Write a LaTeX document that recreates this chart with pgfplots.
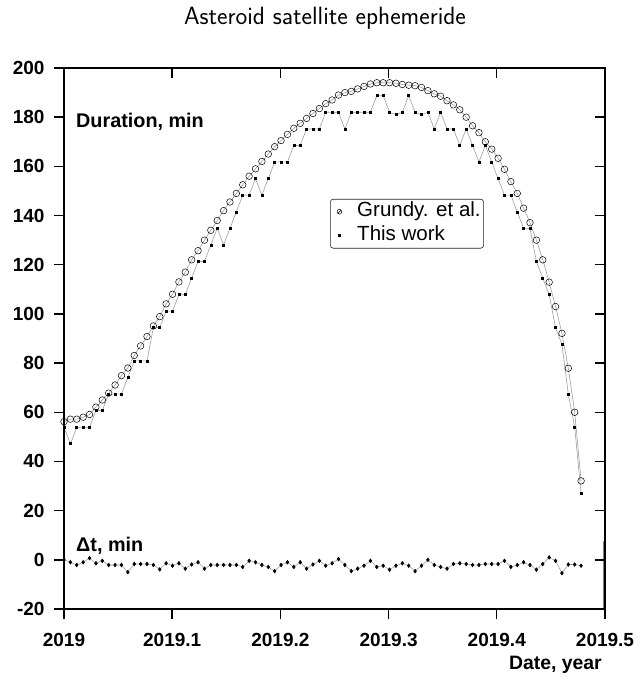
\documentclass[border=0pt]{standalone}
\usepackage{fontspec}
\setmainfont{Liberation Sans}
\usepackage{pgfplots}
\usepackage{pgfplotstable}
\pgfplotsset{compat=1.18}

\pgfdeclareplotmark{oslash}{%
  \pgfpathcircle{\pgfpointorigin}{\pgfplotmarksize}%
  \pgfpathmoveto{\pgfpoint{-0.707\pgfplotmarksize}{-0.707\pgfplotmarksize}}%
  \pgfpathlineto{\pgfpoint{0.707\pgfplotmarksize}{0.707\pgfplotmarksize}}%
  \pgfusepathqstroke}

\pgfplotstableread{
x      g     w     d
0.0000 56.2  53.9  0
0.0059 57.2  47.2  -1
0.0118 57.2  53.9  -2.1
0.0177 58.0  53.9  -1
0.0236 59.1  53.9  0.7
0.0295 62.1  60.7  -1.4
0.0354 65.0  60.7  -0.4
0.0413 67.8  67.4  -2.1
0.0472 71.1  67.4  -2.1
0.0531 74.9  67.4  -2.1
0.0590 78.0  74.1  -5
0.0649 83.1  80.9  -1.7
0.0708 87.0  80.9  -1.7
0.0767 90.8  80.9  -1.7
0.0826 95.1  94.4  -2.1
0.0885 98.9  94.4  -3.9
0.0944 104.1 101.1 -1.4
0.1003 108.0 101.1 -2.4
0.1062 113.0 107.8 -1.4
0.1121 117.0 107.8 -3.6
0.1180 122.0 114.6 -1.9
0.1239 125.7 121.3 -1
0.1298 130.0 121.3 -3.6
0.1357 134.0 128.1 -2.1
0.1416 138.0 134.8 -2.1
0.1475 142.0 128.1 -2.1
0.1534 145.5 134.8 -2.1
0.1593 149.0 141.5 -2.1
0.1652 152.5 148.3 -2.9
0.1711 156.0 148.3 -0.4
0.1770 159.0 155.0 -1
0.1829 162.0 148.3 -2.1
0.1888 165.0 155.0 -2.9
0.1947 168.0 161.8 -4.6
0.2006 170.5 161.8 -2.1
0.2065 173.0 161.8 -1
0.2124 175.5 168.5 -2.9
0.2183 177.5 168.5 -1
0.2242 179.5 175.2 -3.6
0.2301 181.5 175.2 -1.9
0.2360 183.5 175.2 -0.4
0.2419 185.5 182.0 -2.4
0.2478 187.0 182.0 -1.4
0.2537 189.0 182.0 0.3
0.2596 190.0 175.2 -2.1
0.2655 190.5 182.0 -4.6
0.2714 191.5 182.0 -3.6
0.2773 192.5 182.0 -2.4
0.2832 193.5 182.0 -0.4
0.2891 194.0 188.7 -2.9
0.2950 194.0 188.7 -2.4
0.3009 194.0 182.0 -4
0.3068 193.8 181.0 -2.4
0.3127 193.3 182.0 -1.4
0.3186 193.0 188.7 -2.4
0.3245 192.8 182.0 -4.6
0.3304 192.1 181.0 -2.4
0.3363 190.8 182.0 0
0.3422 189.5 175.2 -2.1
0.3481 188.5 182.0 -2.9
0.3540 186.7 175.2 -3.6
0.3599 185.0 175.2 -1.7
0.3658 183.0 168.5 -1.4
0.3717 180.0 175.2 -1.7
0.3776 176.5 168.5 -2.1
0.3835 173.7 161.8 -2.1
0.3894 170.0 168.5 -1.7
0.3953 167.0 161.8 -1.7
0.4012 163.3 155.0 -1.7
0.4071 158.8 148.3 -0.4
0.4130 153.8 148.3 -2.9
0.4189 149.0 141.5 -2.1
0.4248 143.0 134.8 -1
0.4307 137.1 134.8 -2.1
0.4366 130.0 121.3 -4
0.4425 122.0 114.6 -1.7
0.4484 112.9 107.8 1
0.4543 103.0 94.4  -0.4
0.4602 92.1  87.6  -5.4
0.4661 77.9  67.4  -1.9
0.4720 60.0  53.9  -1.9
0.4779 32.1  27.0  -2.4
}\data

\begin{document}
\begin{tikzpicture}
\path[use as bounding box] (-64pt,-68pt) rectangle (574pt,609pt);
\begin{axis}[
  at={(0pt,0pt)}, anchor=south west,
  scale only axis, width=541pt, height=541pt,
  xmin=0, xmax=0.5, ymin=-20, ymax=200,
  xtick={0,0.1,0.2,0.3,0.4,0.5},
  xticklabels={2019,2019.1,2019.2,2019.3,2019.4,2019.5},
  ytick={-20,0,20,40,60,80,100,120,140,160,180,200},
  yticklabels={-20,0,20,40,60,80,100,120,140,160,180,200},
  xtick pos=left, ytick pos=left,
  tick align=outside, major tick length=10pt,
  every tick/.style={black, line width=1.4pt},
  axis line style={line width=1.4pt},
  tick label style={font=\bfseries\fontsize{19}{22}\selectfont},
  xticklabel style={yshift=-11pt},
  yticklabel style={xshift=-6pt},
  clip=false,
  legend style={at={(0.4917,0.758)}, anchor=north west,
    draw=black!85, rounded corners=3pt, line width=0.6pt,
    font=\fontsize{20.5}{24}\selectfont,
    inner xsep=2pt, inner ysep=0.5pt, row sep=0pt,
    nodes={inner ysep=3pt, inner xsep=1pt, text height=14pt, text depth=4pt}},
  legend cell align=left,
]
\addplot[forget plot, gray!75, line width=0.6pt, mark=o, mark size=3.3pt,
  mark options={black, line width=0.5pt, solid}] table[x=x,y=g]{\data};
\addplot[forget plot, gray!75, line width=0.6pt, mark=square*, mark size=1pt,
  mark options={black}] table[x=x,y=w]{\data};
\addplot[forget plot, gray!75, line width=0.6pt, mark=diamond*, mark size=1.8pt,
  mark options={black}] table[x=x,y=d]{\data};
\draw[gray, line width=0.7pt] (axis cs:0.4982,-20) -- (axis cs:0.4982,7.5);
\addlegendimage{black, line width=0.5pt,
  legend image code/.code={\path (0cm,0cm) (0.82cm,0cm); \pgfplotsset{mark size=2.4pt}\path[draw=black, line width=0.5pt] plot[mark=oslash] coordinates {(0.24cm,0cm)};}}
\addlegendentry{Grundy. et al.}
\addlegendimage{black,
  legend image code/.code={\path (0cm,0cm) (0.82cm,0cm); \path[fill=black] plot[mark=square*, mark size=1pt] coordinates {(0.24cm,0cm)};}}
\addlegendentry{This work}
\end{axis}
\begin{axis}[
  at={(0pt,0pt)}, anchor=south west,
  scale only axis, width=541pt, height=541pt,
  xmin=0, xmax=0.5, ymin=-20, ymax=200,
  xtick={0,0.1,0.2,0.3,0.4,0.5}, xticklabels={},
  ytick={-20,0,20,40,60,80,100,120,140,160,180,200}, yticklabels={},
  xtick pos=right, ytick pos=right,
  tick align=inside, major tick length=10pt,
  every tick/.style={black, line width=1.4pt},
  axis line style={line width=1.4pt},
]
\end{axis}
\node[anchor=base, inner sep=0pt, font=\sffamily\fontsize{25}{29}\selectfont] at (261pt,584pt) {Asteroid satellite ephemeride};
\node[anchor=base west, inner sep=0pt, font=\bfseries\fontsize{19.8}{23}\selectfont] at (12pt,481pt) {Duration, min};
\node[anchor=base west, inner sep=0pt, font=\bfseries\fontsize{19.8}{23}\selectfont] at (12pt,57pt) {Δt, min};
\node[anchor=base east, inner sep=0pt, font=\bfseries\fontsize{19.4}{23}\selectfont] at (538pt,-60pt) {Date, year};
\end{tikzpicture}
\end{document}
